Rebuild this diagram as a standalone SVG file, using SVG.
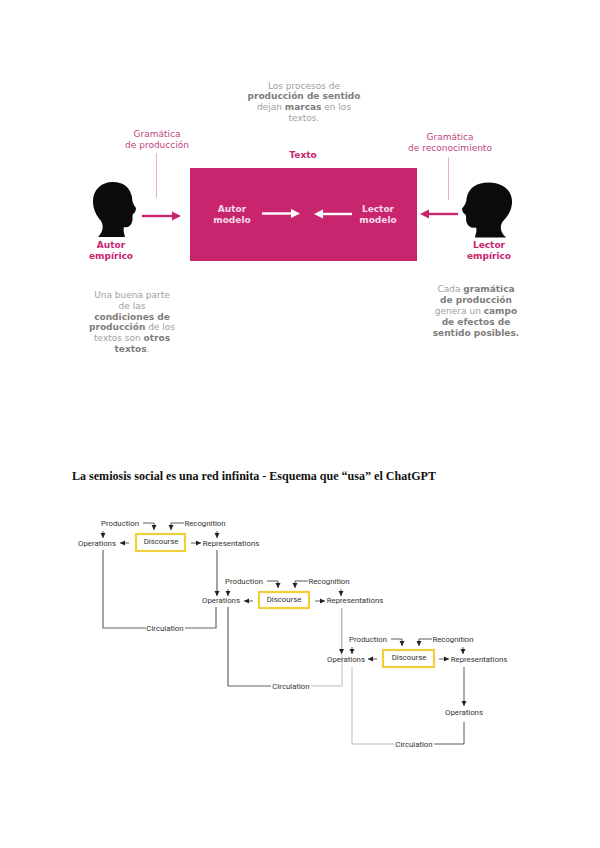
<svg xmlns="http://www.w3.org/2000/svg" width="600" height="848" viewBox="0 0 600 848">
<style>
text{font-family:"DejaVu Sans",sans-serif;text-anchor:middle}
.g{font-size:9px;fill:#a0a0a0}
.g tspan{font-weight:bold;fill:#7d7d7d}
.p{font-size:9px;fill:#c2447f}
.b{font-size:9px;font-weight:bold;fill:#c9256f}
.w{font-size:9px;font-weight:bold;fill:#f6dce8}
.t{font-family:"Liberation Serif",serif;font-size:12px;font-weight:bold;fill:#111;text-anchor:start}
.r{font-family:Roboto,sans-serif;font-size:7.800px;fill:#333}
.y{fill:#fff;stroke:#f0cf3a;stroke-width:2.2}
.c{fill:none;stroke:#333;stroke-width:.8}
.d{fill:none;stroke:#666;stroke-width:1.2}
.l{fill:none;stroke:#bbb;stroke-width:1}
.a{marker-end:url(#m)}
.gl{stroke:#e3b3ca;stroke-width:1}
</style>
<defs>
<marker id="m" markerUnits="userSpaceOnUse" markerWidth="6" markerHeight="6" refX="5" refY="3" orient="auto"><path d="M0 .5L5 3L0 5.500Z" fill="#222"/></marker>
<path id="head" d="M113 182C101 182 93 190 93 201C93 209 96 215 101 221C104 226 103 232 98 237L125 237C124 233 123 230 124 227C128 228 131 226 132 222C133 219 132 217 133 214C135 213 136 210 136 208C133 204 132 201 132 197C130 187 123 182 113 182Z" fill="#0b0b0b"/>
</defs>
<g id="top-note"><text class="g" x="304" y="89">Los procesos de</text><text class="g" x="304" y="99"><tspan>producción de sentido</tspan></text><text class="g" x="304" y="110">dejan <tspan>marcas</tspan> en los</text><text class="g" x="304" y="121">textos.</text></g>
<g id="texto-label"><text class="b" x="303" y="158">Texto</text></g>
<g id="texto"><rect x="190" y="168" width="227" height="93" fill="#c9256f"/></g>
<g id="gramatica-produccion"><text class="p" x="157" y="137">Gramática</text><text class="p" x="157" y="148">de producción</text></g>
<g id="gramatica-reconocimiento"><text class="p" x="450" y="140">Gramática</text><text class="p" x="450" y="151">de reconocimiento</text></g>
<g id="autor-empirico"><use href="#head"/><text class="b" x="111" y="248">Autor</text><text class="b" x="111" y="259">empírico</text></g>
<g id="lector-empirico"><use href="#head" transform="translate(620.200 .5) scale(-1.163 1)"/><text class="b" x="489" y="248">Lector</text><text class="b" x="489" y="259">empírico</text></g>
<g id="autor-modelo"><text class="w" x="232" y="212">Autor</text><text class="w" x="232" y="223">modelo</text></g>
<g id="lector-modelo"><text class="w" x="378" y="212">Lector</text><text class="w" x="378" y="223">modelo</text></g>
<g id="note-left"><text class="g" x="132" y="298">Una buena parte</text><text class="g" x="132" y="309">de las</text><text class="g" x="132" y="320"><tspan>condiciones de</tspan></text><text class="g" x="132" y="330"><tspan>producción</tspan> de los</text><text class="g" x="132" y="341">textos son <tspan>otros</tspan></text><text class="g" x="132" y="352"><tspan>textos</tspan>.</text></g>
<g id="note-right"><text class="g" x="476" y="292">Cada <tspan>gramática</tspan></text><text class="g" x="476" y="303"><tspan>de producción</tspan></text><text class="g" x="476" y="314">genera un <tspan>campo</tspan></text><text class="g" x="476" y="325"><tspan>de efectos de</tspan></text><text class="g" x="476" y="336"><tspan>sentido posibles.</tspan></text></g>
<g id="title"><text class="t" x="72" y="480" textLength="364" lengthAdjust="spacingAndGlyphs">La semiosis social es una red infinita - Esquema que “usa” el ChatGPT</text></g>
<g id="connectors">
<path class="gl" d="M156.500 153V198M448.500 157V200"/>
<path d="M142 216H172" stroke="#c9256f" stroke-width="2.400" fill="none"/><path d="M172 211.500L181 216L172 220.500Z" fill="#c9256f"/>
<path d="M458 214H428" stroke="#c9256f" stroke-width="2.400" fill="none"/><path d="M429 209.500L420 214L429 218.500Z" fill="#c9256f"/>
<path d="M262 213.500H291" stroke="#fff" stroke-width="2.400" fill="none"/><path d="M291 209L300 213.500L291 218Z" fill="#fff"/>
<path d="M352 214H323" stroke="#fff" stroke-width="2.400" fill="none"/><path d="M323 209.500L314 214L323 218.500Z" fill="#fff"/>
<path class="c a" d="M143 523H154V530"/><path class="c a" d="M184 523H171V530"/><path class="c a" d="M103 531V538"/><path class="c a" d="M217 531V538"/><path class="c a" d="M129 543H120"/><path class="c a" d="M191 543H201"/>
<path class="c a" d="M267 581H278V588"/><path class="c a" d="M308 581H295V588"/><path class="c a" d="M228 589V596"/><path class="c a" d="M341 589V596"/><path class="c a" d="M253 601H244"/><path class="c a" d="M315 601H325"/>
<path class="c a" d="M391 639H402V646"/><path class="c a" d="M432 639H419V646"/><path class="c a" d="M352 647V654"/><path class="c a" d="M463 647V654"/><path class="c a" d="M377 659H368"/><path class="c a" d="M439 659H449"/>
<path class="d a" d="M217 550V596"/>
<path class="d" d="M103 550V628H146M185 628H216V607"/>
<path class="d" d="M228 607V686H271"/>
<path class="l" d="M311 686H342V608"/>
<path class="l a" d="M341.500 608V654"/>
<path class="l" d="M352 667V744H394"/>
<path class="c a" d="M464 667V706"/>
<path class="c" d="M464 722V744H434"/>
</g>
<g id="production-1"><text class="r" x="120" y="526">Production</text></g>
<g id="recognition-1"><text class="r" x="205" y="526">Recognition</text></g>
<g id="operations-1"><text class="r" x="97" y="546">Operations</text></g>
<g id="discourse-1"><rect class="y" x="136" y="534" width="49" height="17"/><text class="r" x="161" y="544">Discourse</text></g>
<g id="representations-1"><text class="r" x="231" y="546">Representations</text></g>
<g id="circulation-1"><text class="r" x="165" y="631">Circulation</text></g>
<g id="production-2"><text class="r" x="244" y="584">Production</text></g>
<g id="recognition-2"><text class="r" x="329" y="584">Recognition</text></g>
<g id="operations-2"><text class="r" x="221" y="603">Operations</text></g>
<g id="discourse-2"><rect class="y" x="259" y="592" width="50" height="16"/><text class="r" x="284" y="602">Discourse</text></g>
<g id="representations-2"><text class="r" x="355" y="603">Representations</text></g>
<g id="circulation-2"><text class="r" x="291" y="689">Circulation</text></g>
<g id="production-3"><text class="r" x="368" y="642">Production</text></g>
<g id="recognition-3"><text class="r" x="453" y="642">Recognition</text></g>
<g id="operations-3"><text class="r" x="346" y="662">Operations</text></g>
<g id="discourse-3"><rect class="y" x="383" y="650" width="51" height="17"/><text class="r" x="409" y="660">Discourse</text></g>
<g id="representations-3"><text class="r" x="479" y="662">Representations</text></g>
<g id="operations-4"><text class="r" x="464" y="715">Operations</text></g>
<g id="circulation-3"><text class="r" x="414" y="747">Circulation</text></g>
</svg>
